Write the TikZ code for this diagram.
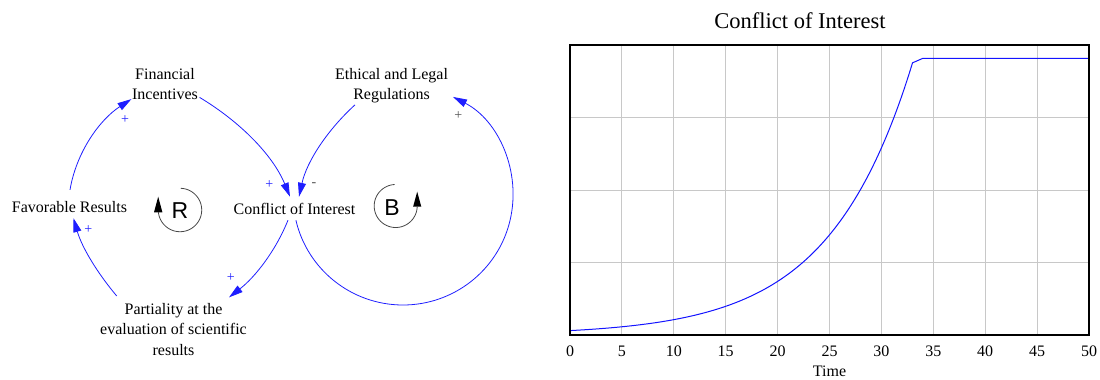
\documentclass[tikz,border=0pt]{standalone}
\usepackage{fontspec}
\setmainfont{Liberation Serif}
\newfontfamily\loopfont{Liberation Sans}
\usetikzlibrary{arrows.meta,calc}
\definecolor{linkblue}{RGB}{30,30,255}
\definecolor{loopgray}{RGB}{70,70,70}
\definecolor{gridgray}{RGB}{200,200,200}
\definecolor{curveblue}{RGB}{20,20,255}
\definecolor{signgray}{RGB}{80,80,80}
\begin{document}
\begin{tikzpicture}[x=1pt,y=-1pt,
  var/.style={font=\fontsize{16}{20.5}\selectfont, align=center, inner sep=0pt, outer sep=0pt},
  link/.style={draw=linkblue, line width=0.8pt, -{Triangle[length=14pt,width=8pt]}},
  sgn/.style={font=\fontsize{14}{16}\selectfont, text=linkblue, inner sep=0pt},
  loopline/.style={draw=loopgray, line width=0.8pt},
  looplabel/.style={font=\loopfont\fontsize{23}{26}\selectfont, inner sep=0pt},
  gridline/.style={draw=gridgray, line width=1pt},
  curveline/.style={draw=curveblue, line width=1pt},
  ticklabel/.style={font=\fontsize{16}{18}\selectfont, inner sep=0pt}
]
\useasboundingbox (0,0) rectangle (1100,380);

% ---------- causal loop diagram ----------
\node[var, anchor=base] (coi) at (294.5,214) {Conflict of Interest};
\node[var, anchor=base] (fav) at (69.5,212) {Favorable Results};
\node[var] (fin) at (165,84.2) {Financial\\Incentives};
\node[var] (eth) at (391.5,85.8) {Ethical and Legal\\Regulations};
\node[var] (par) at (173.5,329.5) {Partiality at the\\evaluation of scientific\\results};

% links
\draw[link] ($(fin.south east)+(1.7,-2.7)$) .. controls +(39.4,23.7) and +(-17.5,-42.5) .. ($(coi.north)+(-4.5,-6)$);
\draw[link] ($(eth.south)+(-36.5,1.5)$) .. controls +(-27.1,24.7) and +(7.9,-35.8) .. ($(coi.north)+(4.5,-6)$);
\draw[link] ($(coi.south)+(-6.5,6)$) .. controls +(-12.4,30.8) and +(26.2,-20.4) .. ($(par.north)+(55.5,-6)$);
\draw[link] ($(par.north)+(-56.8,-7.4)$) .. controls +(-19.5,-23.2) and +(8.35,29.1) .. ($(fav.south)+(4,6)$);
\draw[link] ($(fav.north)+(0.5,-11)$) .. controls +(6.3,-37.6) and +(-31.95,20.75) .. ($(fin.south west)+(-0.7,-1)$);
\draw[link] ($(coi.south)+(1.4,6.1)$) .. controls +(11.6,49.6) and (351.7,304.8) .. (402.6,305)
   .. controls (453.5,305.2) and (497.9,270.5) .. (509.9,221)
   .. controls (521.9,171.5) and +(45.3,23.2) .. ($(eth.south east)+(5.1,-6.4)$);

% polarities
\node[sgn] (p1) at (125,120) {+};
\node[sgn] (p2) at (88.3,230) {+};
\node[sgn] (p3) at (269.3,185) {+};
\node[sgn, text=signgray] (p4) at (314,185) {-};
\node[sgn] (p5) at (230.7,278) {+};
\node[sgn, text=signgray] (p6) at (458.3,115.7) {+};

% loop markers
\draw[loopline] plot[domain=-88:174, samples=80] ({180+21.7*cos(\x)},{210+21.7*sin(\x)});
\fill[black] (154,212.3) -- (162.4,212.3) -- (158.2,196.7) -- cycle;
\node[looplabel] (rloop) at (180,211) {R};
\draw[loopline] plot[domain=-358:-93, samples=80] ({395.7+21.5*cos(\x)},{206+21.5*sin(\x)});
\fill[black] (413.1,206.7) -- (421.3,206.7) -- (417.2,191.7) -- cycle;
\node[looplabel] (bloop) at (392,207.5) {B};

% ---------- graph ----------
\foreach \t in {5,10,...,45} \draw[gridline] ({570+10.38*\t},45) -- ({570+10.38*\t},335);
\foreach \yy in {117.5,190,262.5} \draw[gridline] (570,\yy) -- (1089,\yy);
\draw[curveline] plot[domain=0:33, samples=120] ({570+10.38*\x},{335-4.4*exp(0.125*\x)}) -- (922.9,58.3) -- (1089,58.3);
\draw[line width=1.8pt] (570,45) rectangle (1089,335);
\foreach \t in {0,5,...,50} \node[ticklabel, anchor=base] (tk\t) at ({570+10.38*\t},356.5) {\t};
\node[ticklabel, anchor=base] (timelbl) at (829.5,376.5) {Time};
\node[font=\fontsize{22.5}{26}\selectfont, anchor=base, inner sep=0pt] (title) at (800,28.3) {Conflict of Interest};
\end{tikzpicture}
\end{document}
